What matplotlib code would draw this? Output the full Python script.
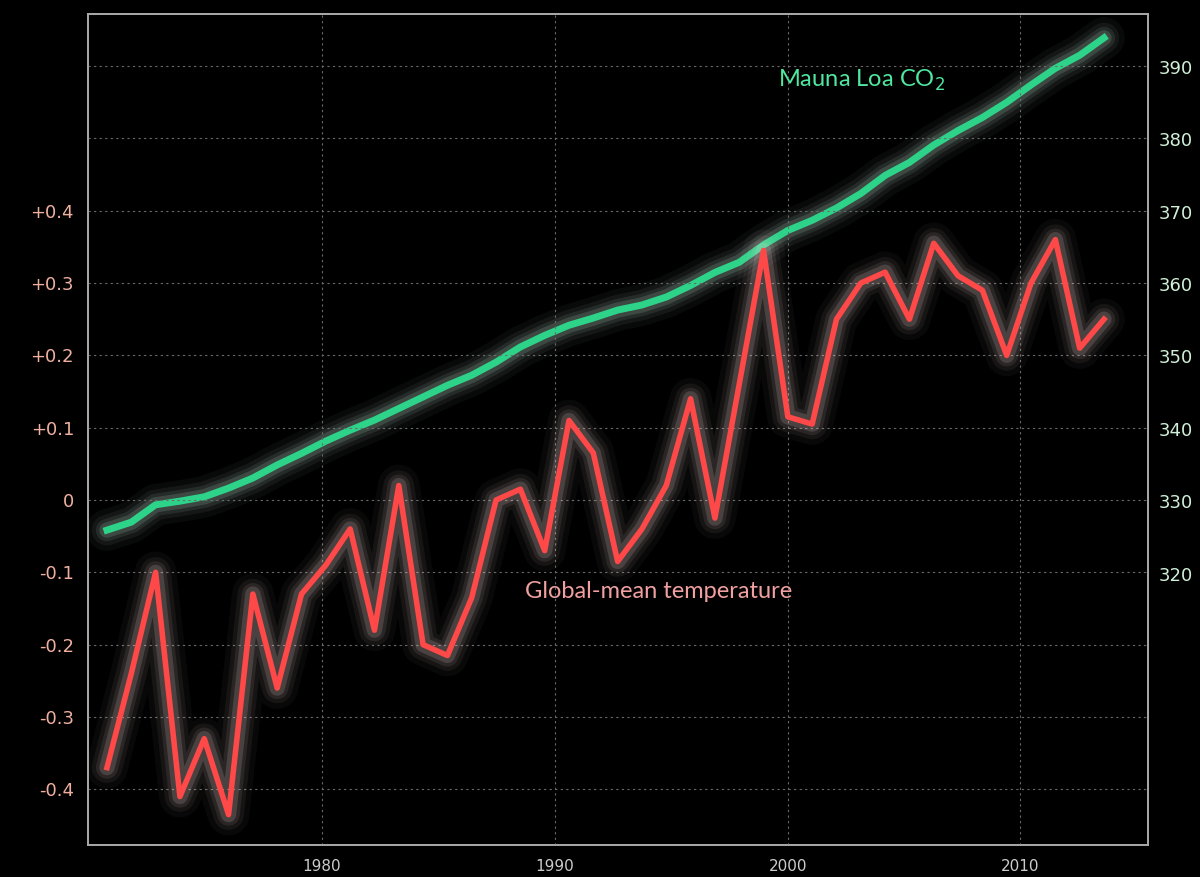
import matplotlib
matplotlib.use("Agg")
import matplotlib.pyplot as plt

years = list(range(1971, 2013))
temp = [-0.37, -0.24, -0.10, -0.41, -0.33, -0.435, -0.13, -0.26, -0.13, -0.09,
        -0.04, -0.18, 0.02, -0.20, -0.215, -0.135, 0.0, 0.015, -0.07, 0.11,
        0.065, -0.085, -0.04, 0.02, 0.14, -0.025, 0.16, 0.345, 0.115, 0.105,
        0.25, 0.30, 0.315, 0.25, 0.355, 0.31, 0.29, 0.20, 0.30, 0.36, 0.21, 0.25]
co2 = [326.0, 327.1, 329.5, 330.0, 330.6, 331.8, 333.2, 335.0, 336.6, 338.3,
       339.8, 341.2, 342.8, 344.4, 346.0, 347.4, 349.2, 351.3, 352.9, 354.3,
       355.3, 356.4, 357.1, 358.2, 359.8, 361.6, 363.0, 365.4, 367.4, 368.8,
       370.5, 372.5, 375.0, 376.8, 379.2, 381.2, 383.0, 385.1, 387.5, 389.8,
       391.6, 394.0]
left_ticks = [-0.4, -0.3, -0.2, -0.1, 0, 0.1, 0.2, 0.3, 0.4]
left_labels = ["-0.4", "-0.3", "-0.2", "-0.1", "0", "+0.1", "+0.2", "+0.3", "+0.4"]
right_ticks = [320, 330, 340, 350, 360, 370, 380, 390]
x_tick_pos = [1979.84, 1989.42, 1999.0, 2008.54]
x_tick_labels = ["1980", "1990", "2000", "2010"]

fig = plt.figure(figsize=(12, 8.77), dpi=100, facecolor="black")
ax2 = fig.add_axes([88/1200, 1-845/877, 1060/1200, 831/877], facecolor="black")
ax = ax2.twinx()
ax.set_xlim(1970.22, 2013.81)
ax.set_ylim(-0.477, 0.672)
ax2.set_ylim(282.5, 397.3)

for y in [-0.4, -0.3, -0.2, -0.1, 0, 0.1, 0.2, 0.3, 0.4, 0.5, 0.6]:
    ax.axhline(y, color="#6a6a6a", lw=0.8, ls=(0, (2, 3)), zorder=0)
for x in x_tick_pos:
    ax.axvline(x, color="#6a6a6a", lw=0.8, ls=(0, (2, 3)), zorder=0)

for w, a in [(30, 0.04), (22, 0.06), (16, 0.09), (11, 0.14)]:
    ax2.plot(years, co2, color="#d8ffe8", lw=w, alpha=a, solid_capstyle="round", solid_joinstyle="round")
ax2.plot(years, co2, color="#2ed38a", lw=5, solid_joinstyle="round")

for w, a in [(30, 0.04), (22, 0.06), (16, 0.09), (11, 0.15)]:
    ax.plot(years, temp, color="#ffe0e0", lw=w, alpha=a, solid_capstyle="round", solid_joinstyle="round")
ax.plot(years, temp, color="#ff4848", lw=4, solid_joinstyle="round")

ax.yaxis.tick_left()
ax2.yaxis.tick_right()
ax.set_yticks(left_ticks)
ax.set_yticklabels(left_labels)
ax2.set_yticks(right_ticks)
ax2.set_ylim(282.5, 397.3)
ax2.set_xticks(x_tick_pos)
ax2.set_xticklabels(x_tick_labels)
ax2.set_xlim(1970.22, 2013.81)
ax.tick_params(axis="y", colors="#f0b0a0", labelsize=13, length=0, pad=10)
ax2.tick_params(axis="x", colors="#cccccc", labelsize=11, length=0, pad=10)
ax2.tick_params(axis="y", colors="#d0f0d8", labelsize=13, length=0, pad=8)
for a_ in (ax, ax2):
    for s in a_.spines.values():
        s.set_color("#aaaaaa")
        s.set_linewidth(1.2)

ax.text(1988.2, -0.135, "Global-mean temperature", color="#f0a0a0", fontsize=17, family="Lato")
ax2.text(1998.6, 387.3, "Mauna Loa CO$_2$", color="#50e8a0", fontsize=17, family="Lato")
fig.savefig("out.png", facecolor="black")
